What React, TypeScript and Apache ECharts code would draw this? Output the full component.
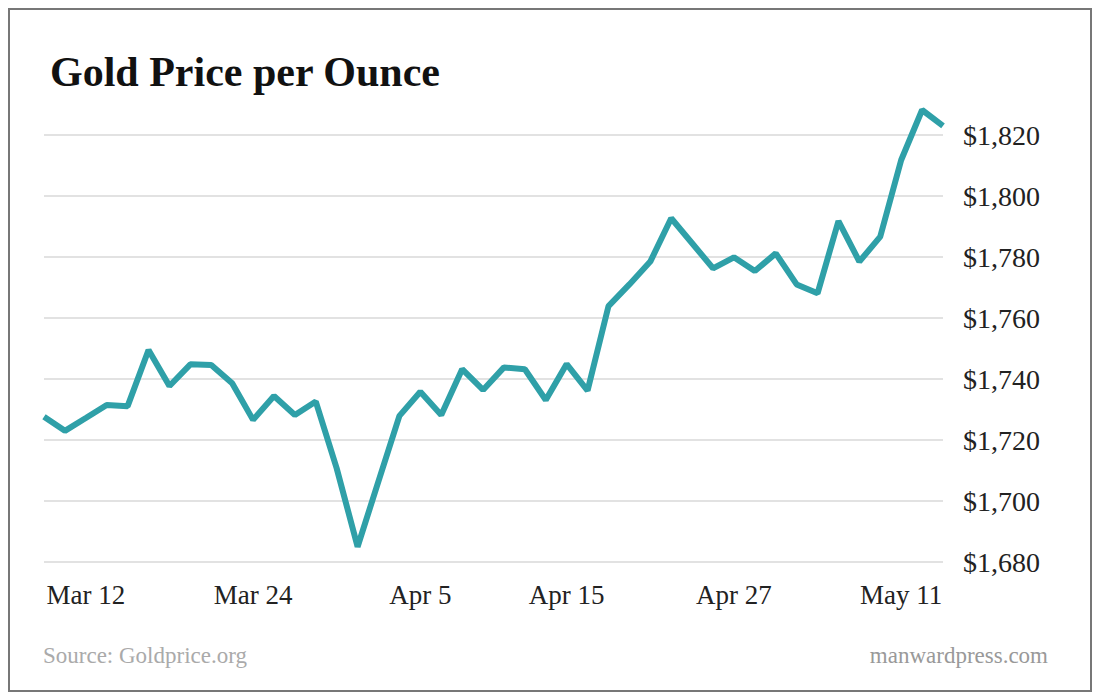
import React, { useEffect, useRef } from "react";
import * as echarts from "echarts";

const dates: string[] = [
  "Mar 10", "Mar 11", "Mar 12", "Mar 15", "Mar 16", "Mar 17", "Mar 18", "Mar 19",
  "Mar 22", "Mar 23", "Mar 24", "Mar 25", "Mar 26", "Mar 29", "Mar 30", "Mar 31",
  "Apr 1", "Apr 2", "Apr 5", "Apr 6", "Apr 7", "Apr 8", "Apr 9", "Apr 12",
  "Apr 14", "Apr 15", "Apr 16", "Apr 19", "Apr 20", "Apr 21", "Apr 22", "Apr 23",
  "Apr 26", "Apr 27", "Apr 28", "Apr 29", "Apr 30", "May 3", "May 4", "May 5",
  "May 6", "May 11", "May 12", "May 13",
];

const prices: number[] = [
  1727.6, 1723.0, 1727.2, 1731.5, 1731.1, 1749.5, 1737.7, 1744.8,
  1744.6, 1738.6, 1726.6, 1734.4, 1728.2, 1732.6, 1710.7, 1685.0,
  1706.5, 1727.9, 1735.8, 1728.2, 1743.2, 1736.4, 1743.8, 1743.2,
  1733.1, 1744.9, 1736.2, 1763.9, 1771.0, 1778.5, 1792.7, 1784.5,
  1776.3, 1779.9, 1775.4, 1781.2, 1771.0, 1768.1, 1791.8, 1778.5,
  1786.7, 1811.8, 1828.2, 1823.0,
];

const tickLabels: string[] = ["Mar 12", "Mar 24", "Apr 5", "Apr 15", "Apr 27", "May 11"];

const yMin = 1680;
const yMax = 1820;
const yStep = 20;

const titleText = "Gold Price per Ounce";
const sourceText = "Source: Goldprice.org";
const creditText = "manwardpress.com";

const FONT = '"Liberation Serif", "Times New Roman", serif';

export default function App() {
  const ref = useRef<HTMLDivElement>(null);

  useEffect(() => {
    if (!ref.current) return;
    const chart = echarts.init(ref.current, null, { renderer: "svg" });
    chart.setOption({
      animation: false,
      backgroundColor: "#ffffff",
      title: {
        text: titleText,
        left: 45,
        top: 46,
        textStyle: {
          fontFamily: FONT,
          fontSize: 42,
          fontWeight: "bold",
          color: "#111111",
        },
      },
      grid: { left: 44, right: 157, top: 135, bottom: 138, containLabel: false },
      xAxis: {
        type: "category",
        data: dates,
        boundaryGap: false,
        axisLine: { show: false },
        axisTick: { show: false },
        splitLine: { show: false },
        axisLabel: {
          interval: (_i: number, v: string) => tickLabels.includes(v),
          margin: 19,
          fontFamily: FONT,
          fontSize: 27,
          color: "#222222",
          formatter: (v: string) => v,
        },
      },
      yAxis: {
        type: "value",
        position: "right",
        min: yMin,
        max: yMax,
        interval: yStep,
        axisLine: { show: false },
        axisTick: { show: false },
        splitLine: { show: true, lineStyle: { color: "#d8d8d8", width: 1.5 } },
        axisLabel: {
          margin: 20,
          fontFamily: FONT,
          fontSize: 28,
          color: "#222222",
          formatter: (v: number) => "$" + v.toLocaleString("en-US"),
        },
      },
      series: [
        {
          type: "line",
          data: prices,
          symbol: "none",
          clip: false,
          lineStyle: { color: "#2fa0a8", width: 6 },
          itemStyle: { color: "#2fa0a8" },
        },
      ],
      graphic: [
        {
          type: "rect",
          shape: { x: 9, y: 9, width: 1082, height: 682 },
          style: { fill: "none", stroke: "#777777", lineWidth: 2 },
          silent: true,
        },
        {
          type: "text",
          left: 43,
          top: 644,
          style: { text: sourceText, font: `23px ${FONT}`, fill: "#aaaaaa" },
        },
        {
          type: "text",
          right: 52,
          top: 644,
          style: { text: creditText, font: `23px ${FONT}`, fill: "#999999" },
        },
      ],
    });
    return () => chart.dispose();
  }, []);

  return (
    <div
      ref={ref}
      style={{ position: "absolute", left: 0, top: 0, width: 1100, height: 700 }}
    />
  );
}
